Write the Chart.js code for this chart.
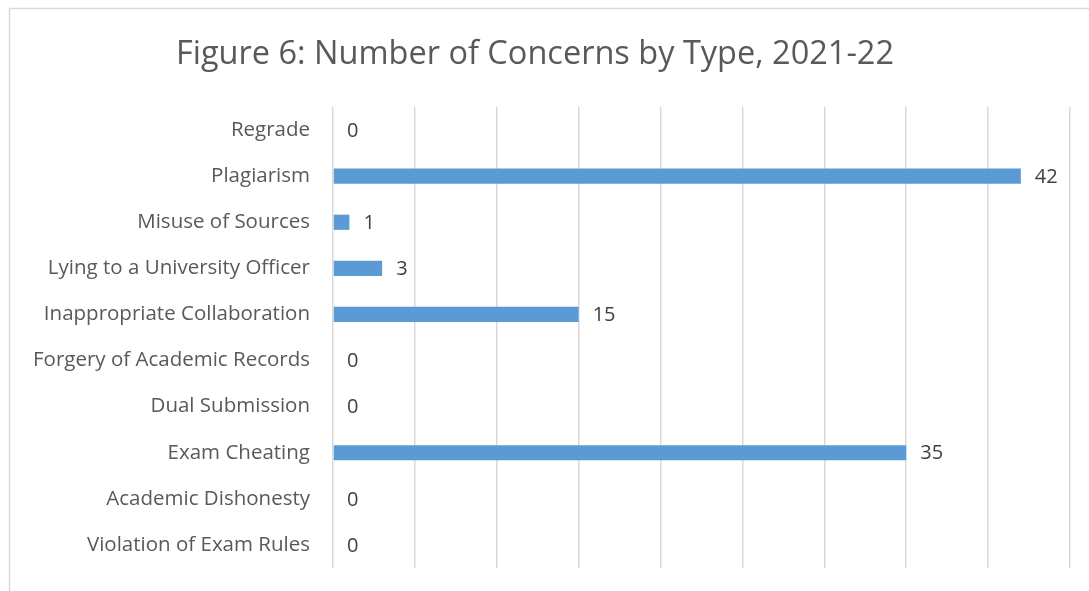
<!DOCTYPE html>
<html>
<head>
<meta charset="utf-8">
<script src="https://cdn.jsdelivr.net/npm/chart.js@4/dist/chart.umd.min.js"></script>
<style>
html,body{margin:0;padding:0;background:#fff;}
#wrap{width:1089px;height:591px;position:relative;}
</style>
</head>
<body>
<div id="wrap"><canvas id="c" width="1089" height="591"></canvas></div>
<script>
const categories = ["Regrade","Plagiarism","Misuse of Sources","Lying to a University Officer","Inappropriate Collaboration","Forgery of Academic Records","Dual Submission","Exam Cheating","Academic Dishonesty","Violation of Exam Rules"];
const concerns = [0,42,1,3,15,0,0,35,0,0];
const titleText = "Figure 6: Number of Concerns by Type, 2021-22";
const FONT = "'Open Sans', sans-serif";

const borderPlugin = {
  id: 'frame',
  beforeDraw(chart){
    const ctx = chart.ctx;
    ctx.save();
    ctx.fillStyle = '#fff';
    ctx.fillRect(0,0,chart.width,chart.height);
    ctx.strokeStyle = '#d9d9d9';
    ctx.lineWidth = 1.5;
    ctx.strokeRect(9.5, 8.5, 1100, 600);
    ctx.restore();
  }
};
const valueLabels = {
  id: 'valueLabels',
  afterDatasetsDraw(chart){
    const ctx = chart.ctx;
    const meta = chart.getDatasetMeta(0);
    ctx.save();
    ctx.font = "20px " + FONT;
    ctx.fillStyle = '#404040';
    ctx.textBaseline = 'middle';
    ctx.textAlign = 'left';
    meta.data.forEach((bar, i) => {
      ctx.fillText(String(concerns[i]), bar.x + 14, bar.y + 1);
    });
    ctx.restore();
  }
};

new Chart(document.getElementById('c'), {
  type: 'bar',
  data: {
    labels: categories,
    datasets: [{
      data: concerns,
      backgroundColor: '#5b9bd5',
      borderWidth: 0,
      barPercentage: 0.33,
      categoryPercentage: 1.0
    }]
  },
  options: {
    indexAxis: 'y',
    responsive: false,
    animation: false,
    devicePixelRatio: 1,
    layout: { padding: { left: 0, right: 19, top: 0, bottom: 23 } },
    plugins: {
      legend: { display: false },
      tooltip: { enabled: false },
      title: {
        display: true,
        text: titleText,
        color: '#595959',
        font: { family: FONT, size: 32.5, weight: 'normal' },
        padding: { top: 35, bottom: 33 }
      }
    },
    scales: {
      x: {
        min: 0, max: 45,
        ticks: { display: false, stepSize: 5 },
        grid: { color: '#d9d9d9', lineWidth: 1.5, drawTicks: false },
        border: { display: false },
        afterFit(s){ s.height = 0; s.paddingLeft = 0; s.paddingRight = 0; }
      },
      y: {
        ticks: { color: '#595959', font: { family: FONT, size: 20.5 }, padding: 23 },
        grid: { display: false, drawTicks: false },
        border: { display: false },
        afterFit(s){ s.width = 333; s.paddingTop = 0; s.paddingBottom = 0; }
      }
    }
  },
  plugins: [borderPlugin, valueLabels]
});
</script>
</body>
</html>
